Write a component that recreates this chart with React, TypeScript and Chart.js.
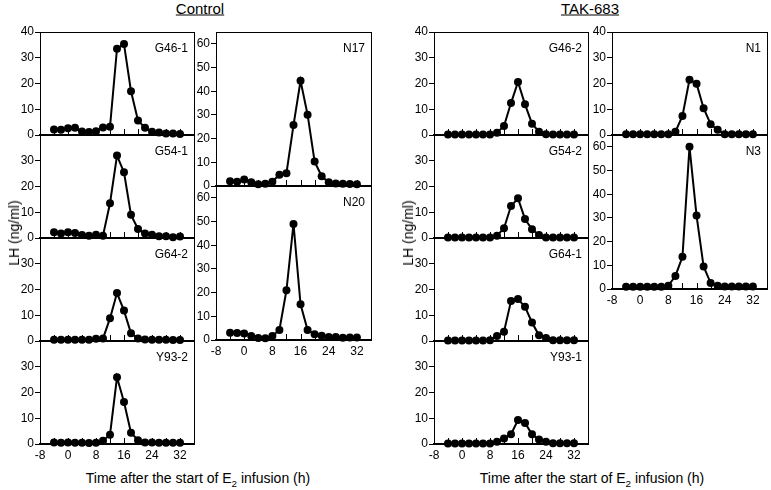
import React, { useEffect, useRef } from "react";
import { Chart, registerables } from "chart.js";

Chart.register(...registerables);

// ---- data ----
const TIMES = [-4, -2, 0, 2, 4, 6, 8, 10, 12, 14, 16, 18, 20, 22, 24, 26, 28, 30, 32];
const X_LABEL_TICKS = [-8, 0, 8, 16, 24, 32];
const X_INNER_TICKS = [-4, 0, 4, 8, 12, 16, 20, 24, 28, 32];
const Y_TICKS_40_TOP = [0, 10, 20, 30, 40];
const Y_TICKS_40 = [0, 10, 20, 30];
const Y_TICKS_65 = [0, 10, 20, 30, 40, 50, 60];

// Control
const G46_1 = [2.1, 2.0, 2.6, 2.8, 1.4, 1.2, 1.5, 2.9, 3.2, 33.5, 35.3, 17.0, 5.6, 2.8, 1.3, 1.0, 0.6, 0.6, 0.4];
const G54_1 = [2.2, 1.7, 2.2, 1.9, 1.2, 0.9, 1.3, 0.9, 13.5, 32.0, 25.5, 9.0, 3.5, 1.7, 1.3, 0.7, 0.7, 0.3, 0.6];
const G64_2 = [0.5, 0.5, 0.5, 0.5, 0.5, 0.5, 0.9, 1.0, 8.8, 18.6, 11.8, 3.0, 1.0, 0.6, 0.5, 0.5, 0.5, 0.4, 0.4];
const Y93_2 = [0.6, 0.5, 0.6, 0.5, 0.5, 0.4, 0.5, 1.3, 3.6, 25.9, 16.3, 4.4, 1.5, 0.6, 0.6, 0.5, 0.5, 0.5, 0.5];
const N17 = [2.0, 1.8, 2.7, 1.6, 0.7, 1.0, 1.8, 4.8, 5.4, 25.7, 44.4, 30.1, 10.3, 4.1, 1.6, 1.1, 1.0, 0.8, 0.7];
const N20 = [3.1, 3.0, 2.7, 1.7, 0.8, 0.7, 1.7, 4.2, 21.0, 49.0, 15.1, 4.2, 2.4, 1.8, 1.3, 1.3, 1.0, 1.1, 1.1];

// TAK-683
const G46_2 = [0.2, 0.2, 0.2, 0.2, 0.2, 0.2, 0.2, 0.9, 3.5, 12.4, 20.6, 11.9, 4.4, 1.3, 0.3, 0.2, 0.2, 0.2, 0.2];
const G54_2 = [0.2, 0.2, 0.2, 0.2, 0.2, 0.2, 0.2, 0.9, 3.8, 12.4, 15.4, 7.4, 3.4, 1.2, 0.2, 0.2, 0.2, 0.2, 0.2];
const G64_1 = [0.2, 0.2, 0.2, 0.2, 0.2, 0.2, 0.3, 1.9, 3.6, 15.5, 16.3, 13.3, 7.2, 2.2, 1.2, 0.3, 0.3, 0.3, 0.3];
const Y93_1 = [0.2, 0.2, 0.2, 0.2, 0.2, 0.2, 0.2, 0.9, 2.1, 3.8, 9.3, 8.2, 3.8, 1.7, 0.9, 0.3, 0.3, 0.3, 0.3];
const N1 = [0.3, 0.3, 0.3, 0.3, 0.3, 0.3, 0.3, 1.3, 7.4, 21.5, 19.9, 10.4, 4.2, 2.0, 0.3, 0.3, 0.3, 0.3, 0.3];
const N3 = [1.0, 0.9, 0.9, 0.9, 0.9, 0.9, 1.4, 5.5, 13.6, 60.0, 31.0, 9.5, 2.5, 1.4, 1.1, 1.1, 1.1, 1.1, 1.1];

const FONT = "'Liberation Sans', Arial, Helvetica, sans-serif";

type PanelDef = {
  name: string;
  values: number[];
  yMax: number;
  yTicks: number[];
  showX: boolean;
  left: number;
  top: number;
  width: number;
  height: number;
};

const PANELS: PanelDef[] = [
  { name: "G46-1", values: G46_1, yMax: 40, yTicks: Y_TICKS_40_TOP, showX: false, left: 40, top: 32, width: 154, height: 103 },
  { name: "G54-1", values: G54_1, yMax: 40, yTicks: Y_TICKS_40, showX: false, left: 40, top: 135, width: 154, height: 103 },
  { name: "G64-2", values: G64_2, yMax: 40, yTicks: Y_TICKS_40, showX: false, left: 40, top: 238, width: 154, height: 103 },
  { name: "Y93-2", values: Y93_2, yMax: 40, yTicks: Y_TICKS_40, showX: true, left: 40, top: 341, width: 154, height: 103 },
  { name: "N17", values: N17, yMax: 65, yTicks: Y_TICKS_65, showX: false, left: 216, top: 32, width: 155, height: 154 },
  { name: "N20", values: N20, yMax: 65, yTicks: Y_TICKS_65, showX: true, left: 216, top: 186, width: 155, height: 154 },
  { name: "G46-2", values: G46_2, yMax: 40, yTicks: Y_TICKS_40_TOP, showX: false, left: 434, top: 32, width: 154, height: 103 },
  { name: "G54-2", values: G54_2, yMax: 40, yTicks: Y_TICKS_40, showX: false, left: 434, top: 135, width: 154, height: 103 },
  { name: "G64-1", values: G64_1, yMax: 40, yTicks: Y_TICKS_40, showX: false, left: 434, top: 238, width: 154, height: 103 },
  { name: "Y93-1", values: Y93_1, yMax: 40, yTicks: Y_TICKS_40, showX: true, left: 434, top: 341, width: 154, height: 103 },
  { name: "N1", values: N1, yMax: 40, yTicks: Y_TICKS_40_TOP, showX: false, left: 612, top: 32, width: 155, height: 103 },
  { name: "N3", values: N3, yMax: 65, yTicks: Y_TICKS_65, showX: true, left: 612, top: 135, width: 155, height: 154 },
];

const PL = 40;
const PT = 14;
const PR = 10;
const PB = 26;

function decor(name: string) {
  return {
    id: "panelDecor",
    beforeDatasetsDraw(chart: any) {
      const { ctx, chartArea: a, scales } = chart;
      const x = scales.x;
      ctx.save();
      ctx.strokeStyle = "#000";
      ctx.lineWidth = 1;
      ctx.beginPath();
      ctx.moveTo(a.left, a.top + 0.5);
      ctx.lineTo(a.right + 1, a.top + 0.5);
      ctx.moveTo(a.right + 0.5, a.top);
      ctx.lineTo(a.right + 0.5, a.bottom + 1);
      X_INNER_TICKS.forEach((v) => {
        const px = Math.round(x.getPixelForValue(v)) + 0.5;
        ctx.moveTo(px, a.bottom);
        ctx.lineTo(px, a.bottom - 6);
      });
      ctx.stroke();
      ctx.fillStyle = "#000";
      ctx.font = `12px ${FONT}`;
      ctx.textAlign = "right";
      ctx.textBaseline = "middle";
      ctx.fillText(name, a.right - 6, a.top + 17);
      ctx.restore();
    },
  };
}

function Panel({ p }: { p: PanelDef }) {
  const ref = useRef<HTMLCanvasElement>(null);
  useEffect(() => {
    const chart = new Chart(ref.current as HTMLCanvasElement, {
      type: "line",
      data: {
        datasets: [
          {
            data: TIMES.map((t, i) => ({ x: t, y: p.values[i] })),
            borderColor: "#000",
            backgroundColor: "#000",
            borderWidth: 2,
            pointRadius: 4,
            pointBackgroundColor: "#000",
            pointBorderWidth: 0,
            tension: 0,
            fill: false,
            clip: false as any,
          },
        ],
      },
      options: {
        responsive: false,
        animation: false,
        devicePixelRatio: 1,
        events: [],
        layout: { padding: { left: 0, top: PT, right: PR, bottom: 0 } },
        plugins: { legend: { display: false }, tooltip: { enabled: false } },
        scales: {
          x: {
            type: "linear",
            min: -8,
            max: 36,
            afterBuildTicks: (s: any) => {
              s.ticks = X_LABEL_TICKS.map((v) => ({ value: v }));
            },
            afterFit: (s: any) => {
              s.height = PB;
            },
            grid: { display: false, drawTicks: false },
            border: { display: true, color: "#000", width: 2 },
            ticks: {
              display: p.showX,
              autoSkip: false,
              maxRotation: 0,
              padding: 4,
              color: "#000",
              font: { family: FONT, size: 12 },
            },
          },
          y: {
            type: "linear",
            min: 0,
            max: p.yMax,
            afterBuildTicks: (s: any) => {
              s.ticks = p.yTicks.map((v) => ({ value: v }));
            },
            afterFit: (s: any) => {
              s.width = PL;
            },
            grid: {
              display: true,
              drawOnChartArea: false,
              drawTicks: true,
              tickLength: 5,
              color: "#000",
              lineWidth: 1,
            },
            border: { display: true, color: "#000", width: 1 },
            ticks: {
              padding: 1,
              color: "#000",
              font: { family: FONT, size: 12 },
            },
          },
        },
      } as any,
      plugins: [decor(p.name)],
    });
    return () => chart.destroy();
  }, []);
  return (
    <canvas
      ref={ref}
      width={p.width + PL + PR}
      height={p.height + PT + PB}
      style={{ position: "absolute", left: p.left - PL, top: p.top - PT }}
    />
  );
}

const centered: React.CSSProperties = {
  position: "absolute",
  transform: "translate(-50%, -50%)",
  whiteSpace: "nowrap",
  lineHeight: 1,
};

function XTitle({ x }: { x: number }) {
  return (
    <div style={{ ...centered, left: x, top: 478, fontSize: 14 }}>
      Time after the start of E
      <sub style={{ fontSize: "0.7em", verticalAlign: "sub", lineHeight: 0 }}>2</sub> infusion (h)
    </div>
  );
}

function YTitle({ x }: { x: number }) {
  return (
    <div
      style={{
        ...centered,
        left: x,
        top: 233,
        fontSize: 14,
        transform: "translate(-50%, -50%) rotate(-90deg)",
      }}
    >
      LH (ng/ml)
    </div>
  );
}

export default function App() {
  return (
    <div
      style={{
        position: "absolute",
        left: 0,
        top: 0,
        width: 771,
        height: 490,
        background: "#fff",
        fontFamily: FONT,
        color: "#000",
        overflow: "hidden",
      }}
    >
      <div style={{ ...centered, left: 200, top: 8, fontSize: 15, textDecoration: "underline" }}>Control</div>
      <div style={{ ...centered, left: 590, top: 8, fontSize: 15, textDecoration: "underline" }}>TAK-683</div>
      {PANELS.map((p) => (
        <Panel key={p.name} p={p} />
      ))}
      <YTitle x={14} />
      <YTitle x={408} />
      <XTitle x={198} />
      <XTitle x={592} />
    </div>
  );
}
